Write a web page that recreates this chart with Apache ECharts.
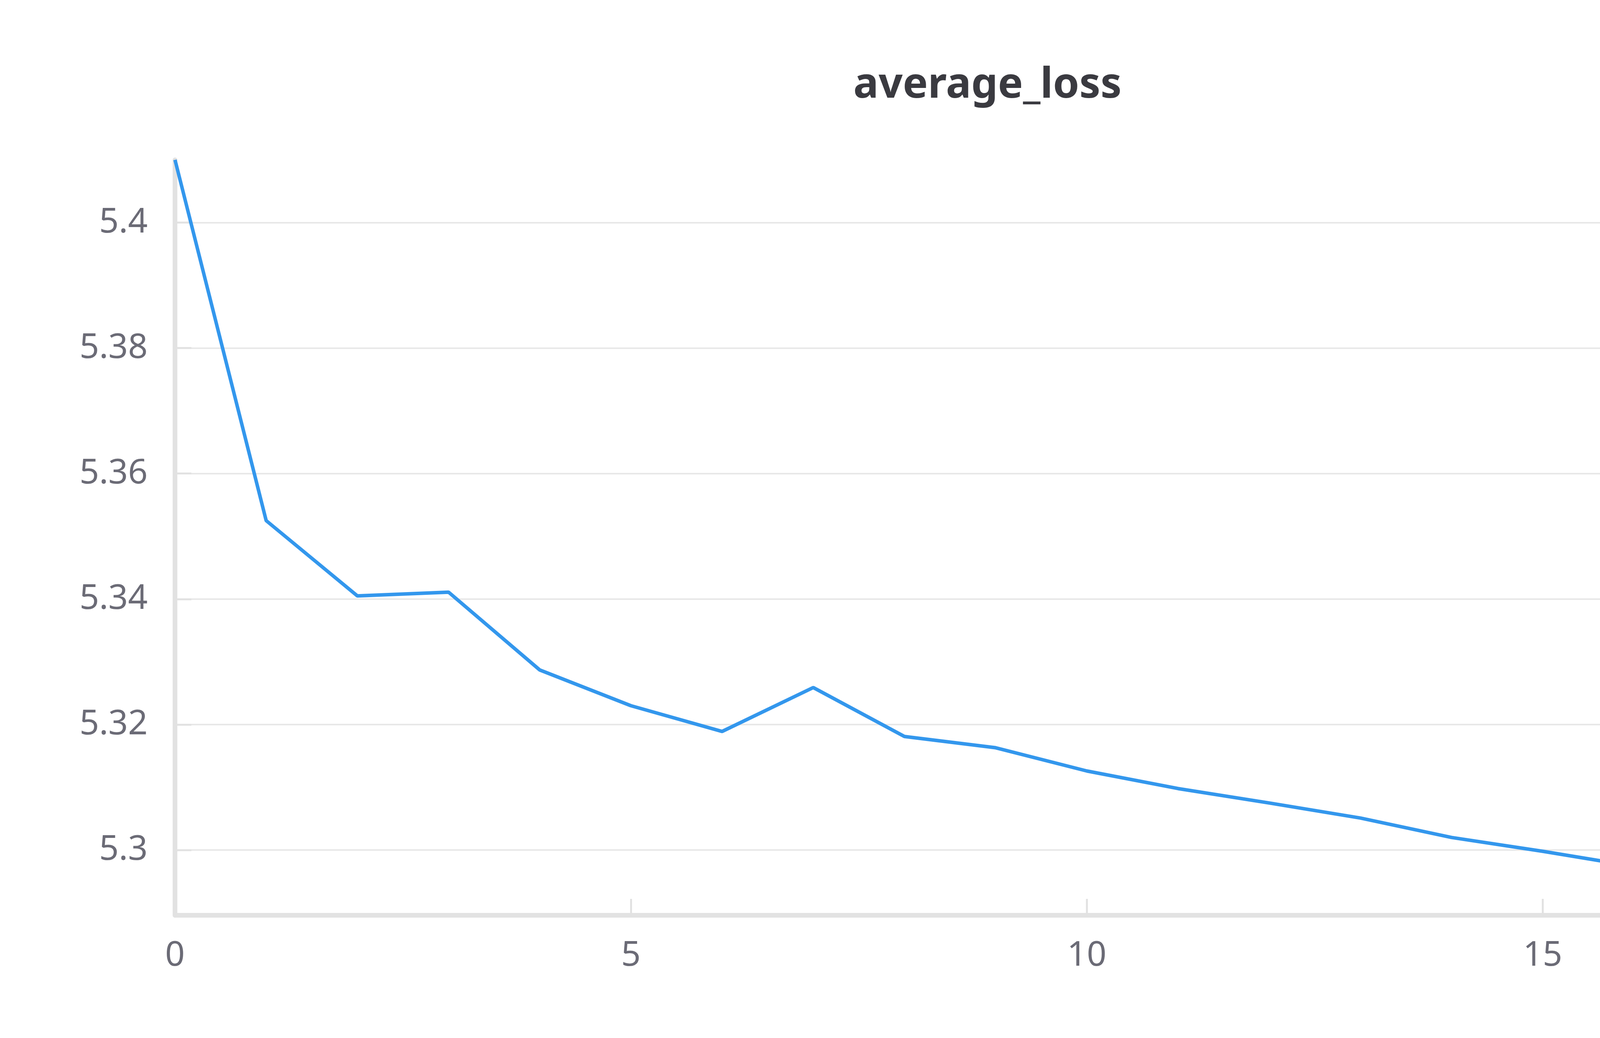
<!DOCTYPE html>
<html><head><meta charset="utf-8">
<script src="https://cdn.jsdelivr.net/npm/echarts@6/dist/echarts.min.js"></script>
<style>html,body{margin:0;background:#fff}#c{width:5056px;height:2656px}</style>
</head><body><div id="c"></div>
<script>
var steps = [0,1,2,3,4,5,6,7,8,9,10,11,12,13,14,15,16,17,18,19];
var lossValues = [5.41,5.3525,5.3405,5.3411,5.3287,5.3230,5.3189,5.3259,5.3181,5.3163,5.3126,5.3098,5.3075,5.3051,5.3020,5.2998,5.2974,5.2945,5.2921,5.2896];
var yTicks = [5.3,5.32,5.34,5.36,5.38,5.4];

var chart = echarts.init(document.getElementById('c'));
var pts = steps.map(function (s, i) { return [s, lossValues[i]]; });
var labelColor = '#6b6b76';
chart.setOption({
  animation: false,
  title: {
    text: 'average_loss', left: 'center', top: 160,
    textStyle: {fontFamily: 'Source Sans Pro, Noto Sans', fontSize: 108, fontWeight: 'bold', color: '#3a3a40'}
  },
  grid: {left: 448, right: 173, top: 409, bottom: 314},
  xAxis: {
    type: 'value', min: 0, max: 19, interval: 5,
    name: 'Step', nameLocation: 'end', nameGap: -50,
    nameTextStyle: {fontFamily: 'Noto Sans', fontSize: 88, color: labelColor, align: 'right', verticalAlign: 'bottom', padding: [0, 0, 20, 0]},
    axisLine: {lineStyle: {color: '#e2e2e2', width: 12}},
    axisTick: {inside: true, length: 42, lineStyle: {color: '#e2e2e2', width: 5}},
    axisLabel: {fontFamily: 'Noto Sans', fontSize: 88, color: labelColor, margin: 60},
    splitLine: {show: false}
  },
  yAxis: {
    type: 'value', min: 5.2896, max: 5.41,
    axisLine: {show: true, lineStyle: {color: '#e2e2e2', width: 12}},
    axisTick: {show: true, inside: true, length: 42, customValues: yTicks, lineStyle: {color: '#e2e2e2', width: 5}},
    axisLabel: {fontFamily: 'Noto Sans', fontSize: 88, color: labelColor, margin: 70, customValues: yTicks,
      formatter: function (v) { return String(+v.toFixed(2)); }},
    splitLine: {show: true, lineStyle: {color: '#e8e8e8', width: 4}}
  },
  series: [{
    type: 'line', data: pts, lineStyle: {color: '#2f8ad8', width: 9},
    symbol: 'circle', symbolSize: function (v, p) { return p.dataIndex === steps.length - 1 ? 34 : 0; },
    itemStyle: {color: '#2f8ad8'}, clip: false
  }]
});
</script></body></html>
